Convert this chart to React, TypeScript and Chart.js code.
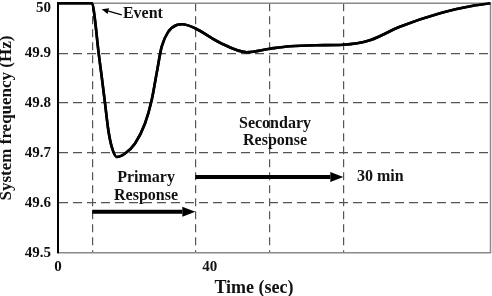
import React, { useEffect, useRef } from "react";
import { Chart, registerables } from "chart.js";

Chart.register(...registerables);

// Time (sec) and frequency (Hz)
const timeSec = [0, 9.04, 9.75, 10.62, 11.52, 12.39, 13.26, 14.15, 15.47, 17.66, 20.3, 22.93, 24.7, 26.01, 27.33, 29.07, 31.29, 32.8, 36.11, 42.7, 49.74, 55.88, 61.15, 68, 75.2, 82.2, 90.1, 100.7, 109.4, 114];
const freqHz = [50, 50, 49.9665, 49.906, 49.853, 49.8, 49.746, 49.7125, 49.692, 49.699, 49.719, 49.759, 49.806, 49.86, 49.913, 49.943, 49.9565, 49.958, 49.95, 49.921, 49.902, 49.909, 49.914, 49.916, 49.917, 49.926, 49.953, 49.98, 49.995, 50];

const xTickValues = [0, 40];
const xMarkerLines = [9, 36.2, 55.9, 75.2];
const yTicks = [49.5, 49.6, 49.7, 49.8, 49.9, 50];

const yTitle = "System frequency (Hz)";
const xTitle = "Time (sec)";

const SERIF = '"Liberation Serif", "Times New Roman", serif';

function arrow(ctx: CanvasRenderingContext2D, x1: number, y1: number, x2: number, y2: number, lw: number, headLen: number, headHalf: number) {
  const ang = Math.atan2(y2 - y1, x2 - x1);
  const bx = x2 - Math.cos(ang) * headLen;
  const by = y2 - Math.sin(ang) * headLen;
  ctx.save();
  ctx.strokeStyle = "#000";
  ctx.fillStyle = "#000";
  ctx.lineWidth = lw;
  ctx.beginPath();
  ctx.moveTo(x1, y1);
  ctx.lineTo(bx, by);
  ctx.stroke();
  ctx.beginPath();
  ctx.moveTo(x2, y2);
  ctx.lineTo(bx - Math.sin(ang) * headHalf, by + Math.cos(ang) * headHalf);
  ctx.lineTo(bx + Math.sin(ang) * headHalf, by - Math.cos(ang) * headHalf);
  ctx.closePath();
  ctx.fill();
  ctx.restore();
}

const annotPlugin = {
  id: "annot",
  afterDraw(chart: any) {
    const ctx: CanvasRenderingContext2D = chart.ctx;
    const xs = chart.scales.x;
    const ys = chart.scales.y;
    const ca = chart.chartArea;
    const px = (v: number) => xs.getPixelForValue(v);
    const py = (v: number) => ys.getPixelForValue(v);

    // frame top / right
    ctx.save();
    ctx.strokeStyle = "#8a8a8a";
    ctx.lineWidth = 1.5;
    ctx.beginPath();
    ctx.moveTo(ca.left, ca.top);
    ctx.lineTo(ca.right, ca.top);
    ctx.lineTo(ca.right, ca.bottom);
    ctx.stroke();
    ctx.restore();

    // redraw curve on top of frame
    chart.getDatasetMeta(0).controller.draw();

    // arrows
    arrow(ctx, px(16.8), py(49.977), px(11.5), py(49.988), 1.3, 7, 3);
    arrow(ctx, px(9), py(49.582), px(36.2), py(49.582), 4, 13, 5);
    arrow(ctx, px(36.2), py(49.652), px(75.2), py(49.652), 4, 13, 5);

    ctx.save();
    ctx.fillStyle = "#111";
    ctx.font = `bold 16px ${SERIF}`;
    ctx.textBaseline = "middle";
    ctx.textAlign = "left";
    ctx.fillText("Event", px(17.1), py(49.978));
    ctx.fillText("30 min", px(78.8), py(49.652));
    ctx.textAlign = "center";
    ctx.fillText("Primary", px(23.2), py(49.650));
    ctx.fillText("Response", px(23.2), py(49.614));
    ctx.fillText("Secondary", px(57.2), py(49.758));
    ctx.fillText("Response", px(57.2), py(49.724));

    // axis titles
    ctx.font = `bold 18px ${SERIF}`;
    ctx.fillText(xTitle, 254, 288);
    ctx.translate(7, 118);
    ctx.rotate(-Math.PI / 2);
    ctx.font = `bold 17px ${SERIF}`;
    ctx.fillText(yTitle, 0, 0);
    ctx.restore();
  },
};

export default function App() {
  const ref = useRef<HTMLCanvasElement>(null);
  useEffect(() => {
    document.body.style.margin = "0";
    const chart = new Chart(ref.current!, {
      type: "line",
      data: {
        datasets: [
          {
            data: timeSec.map((t, i) => ({ x: t, y: freqHz[i] })),
            borderColor: "#000",
            borderWidth: 2.6,
            pointRadius: 0,
            cubicInterpolationMode: "monotone",
            fill: false,
          },
        ],
      },
      options: {
        animation: false,
        responsive: true,
        maintainAspectRatio: false,
        events: [],
        layout: { padding: { top: 3.3, right: 1.5, left: 0, bottom: 0 } },
        plugins: { legend: { display: false }, tooltip: { enabled: false } },
        scales: {
          x: {
            type: "linear",
            min: 0,
            max: 114,
            afterBuildTicks: (s: any) => {
              s.ticks = [...xTickValues, ...xMarkerLines].sort((a, b) => a - b).map((v) => ({ value: v }));
            },
            afterFit: (s: any) => {
              s.height = 43.3;
              s.paddingLeft = 0;
              s.paddingRight = 0;
            },
            ticks: {
              autoSkip: false,
              maxRotation: 0,
              padding: 5,
              color: "#111",
              font: { family: SERIF, size: 15, weight: "bold" },
              callback: (v: any) => (xTickValues.includes(v) ? String(v) : ""),
            },
            grid: {
              drawTicks: false,
              color: (c: any) => (c.tick && xMarkerLines.includes(c.tick.value) ? "#555" : "rgba(0,0,0,0)"),
              lineWidth: 1.2,
            },
            border: { display: true, color: "#8a8a8a", width: 1.5, dash: [8, 5] },
          },
          y: {
            min: 49.5,
            max: 50,
            afterBuildTicks: (s: any) => {
              s.ticks = yTicks.map((v) => ({ value: v }));
            },
            afterFit: (s: any) => {
              s.width = 58;
              s.paddingTop = 0;
              s.paddingBottom = 0;
            },
            ticks: {
              padding: 7,
              color: "#111",
              font: { family: SERIF, size: 15, weight: "bold", lineHeight: 0.7 },
              callback: (v: any) => (v === 50 ? ["", "50"] : Number(v).toFixed(1)),
            },
            grid: {
              drawTicks: false,
              color: (c: any) => (c.tick && c.tick.value > 49.55 && c.tick.value < 49.95 ? "#555" : "rgba(0,0,0,0)"),
              lineWidth: 1.2,
            },
            border: { display: true, color: "#000", width: 2, dash: [9, 5] },
          },
        },
      },
      plugins: [annotPlugin],
    } as any);
    return () => chart.destroy();
  }, []);
  return (
    <div style={{ position: "absolute", left: 0, top: 0, width: 492, height: 296 }}>
      <canvas ref={ref} />
    </div>
  );
}
